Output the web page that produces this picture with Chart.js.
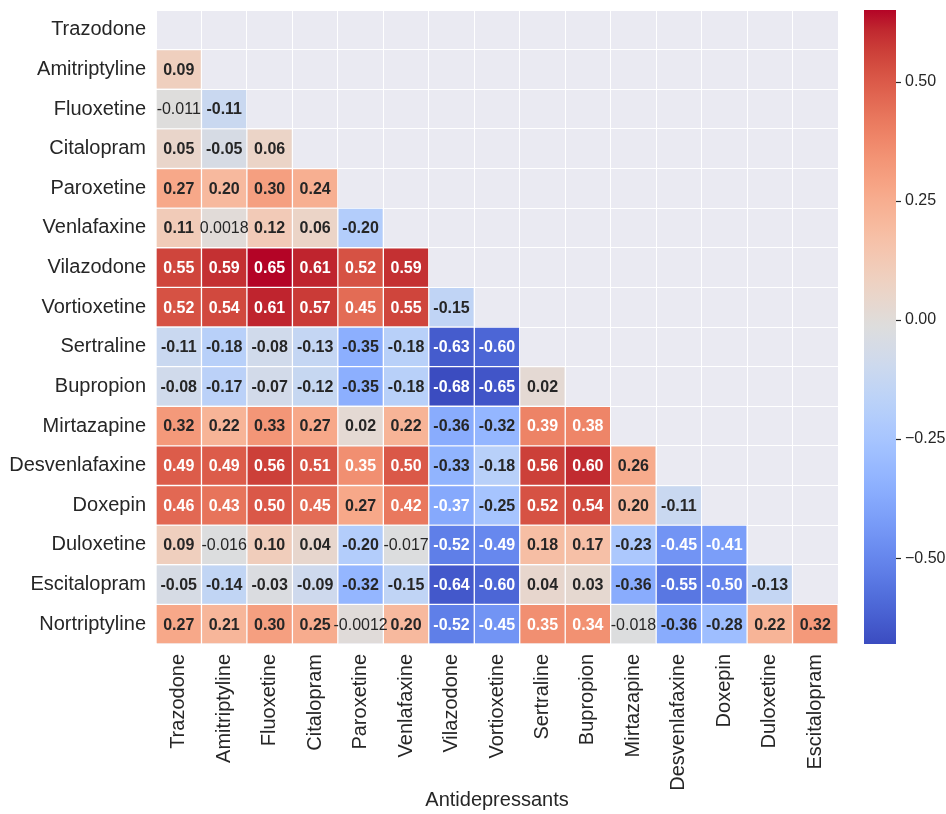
<!DOCTYPE html>
<html>
<head>
<meta charset="utf-8">
<title>Antidepressant correlation heatmap</title>
<script src="https://cdn.jsdelivr.net/npm/chart.js@4.4.1/dist/chart.umd.min.js"></script>
<style>
  html, body { margin: 0; padding: 0; background: #ffffff; }
  #wrap { width: 946px; height: 814px; }
</style>
</head>
<body>
<div id="wrap"><canvas id="heat" width="946" height="814"></canvas></div>
<script>
// Row drugs (top to bottom) and column drugs (left to right)
const rowNames = ['Trazodone', 'Amitriptyline', 'Fluoxetine', 'Citalopram', 'Paroxetine',
  'Venlafaxine', 'Vilazodone', 'Vortioxetine', 'Sertraline', 'Bupropion', 'Mirtazapine',
  'Desvenlafaxine', 'Doxepin', 'Duloxetine', 'Escitalopram', 'Nortriptyline'];
const colNames = rowNames.slice(0, 15);

// Lower-triangle correlations, one list per row
const trazodoneRow      = [];
const amitriptylineRow  = [0.09];
const fluoxetineRow     = [-0.011, -0.11];
const citalopramRow     = [0.05, -0.05, 0.06];
const paroxetineRow     = [0.27, 0.20, 0.30, 0.24];
const venlafaxineRow    = [0.11, 0.0018, 0.12, 0.06, -0.20];
const vilazodoneRow     = [0.55, 0.59, 0.65, 0.61, 0.52, 0.59];
const vortioxetineRow   = [0.52, 0.54, 0.61, 0.57, 0.45, 0.55, -0.15];
const sertralineRow     = [-0.11, -0.18, -0.08, -0.13, -0.35, -0.18, -0.63, -0.60];
const bupropionRow      = [-0.08, -0.17, -0.07, -0.12, -0.35, -0.18, -0.68, -0.65, 0.02];
const mirtazapineRow    = [0.32, 0.22, 0.33, 0.27, 0.02, 0.22, -0.36, -0.32, 0.39, 0.38];
const desvenlafaxineRow = [0.49, 0.49, 0.56, 0.51, 0.35, 0.50, -0.33, -0.18, 0.56, 0.60, 0.26];
const doxepinRow        = [0.46, 0.43, 0.50, 0.45, 0.27, 0.42, -0.37, -0.25, 0.52, 0.54, 0.20, -0.11];
const duloxetineRow     = [0.09, -0.016, 0.10, 0.04, -0.20, -0.017, -0.52, -0.49, 0.18, 0.17, -0.23, -0.45, -0.41];
const escitalopramRow   = [-0.05, -0.14, -0.03, -0.09, -0.32, -0.15, -0.64, -0.60, 0.04, 0.03, -0.36, -0.55, -0.50, -0.13];
const nortriptylineRow  = [0.27, 0.21, 0.30, 0.25, -0.0012, 0.20, -0.52, -0.45, 0.35, 0.344, -0.018, -0.36, -0.28, 0.22, 0.32];

// Colour bar tick values
const colorbarTicks = [-0.5, -0.25, 0, 0.25, 0.5];

const rows = [trazodoneRow, amitriptylineRow, fluoxetineRow, citalopramRow, paroxetineRow,
  venlafaxineRow, vilazodoneRow, vortioxetineRow, sertralineRow, bupropionRow, mirtazapineRow,
  desvenlafaxineRow, doxepinRow, duloxetineRow, escitalopramRow, nortriptylineRow];

const allVals = rows.flat();
const vmin = Math.min(...allVals);
const vmax = Math.max(...allVals);

// Diverging cool-warm colour map (Moreland), sampled into a 256-entry table
const coolwarm = [
  [59,76,192],[68,90,204],[77,104,215],[87,117,225],[98,130,234],[108,142,241],
  [119,154,247],[130,165,251],[141,176,254],[152,185,255],[163,194,255],[174,201,253],
  [184,208,249],[194,213,244],[204,217,238],[213,219,230],[221,221,221],[229,216,209],
  [236,211,197],[241,204,185],[245,196,173],[247,187,160],[247,177,148],[247,166,135],
  [244,154,123],[241,141,111],[236,127,99],[229,112,88],[222,96,77],[213,80,66],
  [203,62,56],[192,40,47],[180,4,38]
];
function cmapAt(t) {
  t = Math.max(0, Math.min(1, t));
  const p = t * (coolwarm.length - 1);
  const i = Math.min(Math.floor(p), coolwarm.length - 2);
  const f = p - i;
  const a = coolwarm[i], b = coolwarm[i + 1];
  return [0, 1, 2].map(k => a[k] + (b[k] - a[k]) * f);
}
const LUT_N = 256;
function lutAt(t) {
  const idx = Math.min(LUT_N - 1, Math.max(0, Math.floor(t * LUT_N)));
  return cmapAt(idx / (LUT_N - 1));
}
function colorFor(v) { return lutAt((v - vmin) / (vmax - vmin)); }
function rgbStr(c) { return 'rgb(' + c.map(Math.round).join(',') + ')'; }
function luminance(c) {
  const lin = c.map(x => { x /= 255; return x <= 0.03928 ? x / 12.92 : Math.pow((x + 0.055) / 1.055, 2.4); });
  return 0.2126 * lin[0] + 0.7152 * lin[1] + 0.0722 * lin[2];
}
function cellText(v) {
  if (Math.abs(v) < 0.02) return { text: String(Number(v.toPrecision(2))), bold: false };
  return { text: v.toFixed(2), bold: true };
}

// One floating-bar dataset per row; each bar spans its row on the hidden value axis
const datasets = rows.map((vals, r) => ({
  label: rowNames[r],
  yAxisID: 'yv',
  data: colNames.map((_, c) => (c < vals.length ? [r, r + 1] : null)),
  backgroundColor: colNames.map((_, c) => (c < vals.length ? rgbStr(colorFor(vals[c])) : 'rgba(0,0,0,0)')),
  borderColor: 'rgba(255,255,255,0.5)',
  borderWidth: 1,
  borderSkipped: false,
  barPercentage: 1,
  categoryPercentage: 1,
  grouped: false
}));

const FONT = '"Liberation Sans", Arial, Helvetica, sans-serif';
const INK = '#262626';

// Vertical axes should not push the plot area down
function noVerticalPadding(s) { s.paddingTop = 0; s.paddingBottom = 0; }

const backgroundPlugin = {
  id: 'panelBackground',
  beforeDraw(chart) {
    const { ctx, chartArea: a } = chart;
    ctx.save();
    ctx.fillStyle = '#EAEAF2';
    ctx.fillRect(a.left, a.top, a.right - a.left, a.bottom - a.top);
    ctx.restore();
  }
};

const annotationPlugin = {
  id: 'cellAnnotations',
  afterDatasetsDraw(chart) {
    const { ctx } = chart;
    const xs = chart.scales.x, ys = chart.scales.yv;
    ctx.save();
    ctx.textAlign = 'center';
    ctx.textBaseline = 'middle';
    rows.forEach((vals, r) => {
      vals.forEach((v, c) => {
        const t = cellText(v);
        const col = colorFor(v);
        ctx.fillStyle = luminance(col) > 0.408 ? INK : '#ffffff';
        ctx.font = (t.bold ? 'bold ' : '') + '16px ' + FONT;
        ctx.fillText(t.text, xs.getPixelForValue(c), ys.getPixelForValue(r + 0.5) + 1);
      });
    });
    ctx.restore();
  }
};

const colorbarPlugin = {
  id: 'colorbar',
  afterDraw(chart) {
    const { ctx } = chart;
    const s = chart.scales.cb;
    const left = s.left + 26, width = 32;
    const top = s.getPixelForValue(vmax), bottom = s.getPixelForValue(vmin);
    const grad = ctx.createLinearGradient(0, bottom, 0, top);
    for (let i = 0; i <= 64; i++) {
      grad.addColorStop(i / 64, rgbStr(cmapAt(i / 64)));
    }
    ctx.save();
    ctx.fillStyle = grad;
    ctx.fillRect(left, top, width, bottom - top);
    ctx.strokeStyle = INK;
    ctx.lineWidth = 1.2;
    colorbarTicks.forEach(v => {
      const y = Math.round(s.getPixelForValue(v)) + 0.5;
      ctx.beginPath();
      ctx.moveTo(left + width, y);
      ctx.lineTo(left + width + 5, y);
      ctx.stroke();
    });
    ctx.restore();
  }
};

new Chart(document.getElementById('heat'), {
  type: 'bar',
  data: { labels: colNames, datasets },
  plugins: [backgroundPlugin, annotationPlugin, colorbarPlugin],
  options: {
    responsive: false,
    animation: false,
    layout: { padding: { top: 10, left: 0, right: 0, bottom: 0 } },
    plugins: { legend: { display: false }, tooltip: { enabled: false } },
    scales: {
      x: {
        type: 'category',
        offset: true,
        grid: { offset: true, color: '#ffffff', lineWidth: 1, drawTicks: false },
        border: { display: false },
        ticks: { autoSkip: false, minRotation: 90, maxRotation: 90, padding: 10,
                 color: INK, font: { family: FONT, size: 20 } },
        title: { display: true, text: 'Antidepressants', color: INK,
                 font: { family: FONT, size: 20 }, padding: { top: 4, bottom: 2 } },
        afterFit(s) { s.height = 170; s.paddingLeft = 0; s.paddingRight = 0; }
      },
      y: {
        type: 'category',
        labels: rowNames,
        position: 'left',
        offset: true,
        grid: { offset: true, color: '#ffffff', lineWidth: 1, drawTicks: false },
        border: { display: false },
        ticks: { autoSkip: false, padding: 10, color: INK, font: { family: FONT, size: 20 } },
        afterFit(s) { s.width = 156; noVerticalPadding(s); }
      },
      yv: { type: 'linear', display: false, min: 0, max: rowNames.length, reverse: true },
      cb: {
        type: 'linear',
        position: 'right',
        min: vmin,
        max: vmax,
        grid: { display: false, drawTicks: false },
        border: { display: false },
        afterBuildTicks(s) { s.ticks = colorbarTicks.map(v => ({ value: v })); },
        ticks: {
          padding: 67,
          color: INK,
          font: { family: FONT, size: 16 },
          callback: v => v.toFixed(2).replace('-', '\u2212')
        },
        afterFit(s) { s.width = 108; noVerticalPadding(s); }
      }
    }
  }
});
</script>
</body>
</html>
